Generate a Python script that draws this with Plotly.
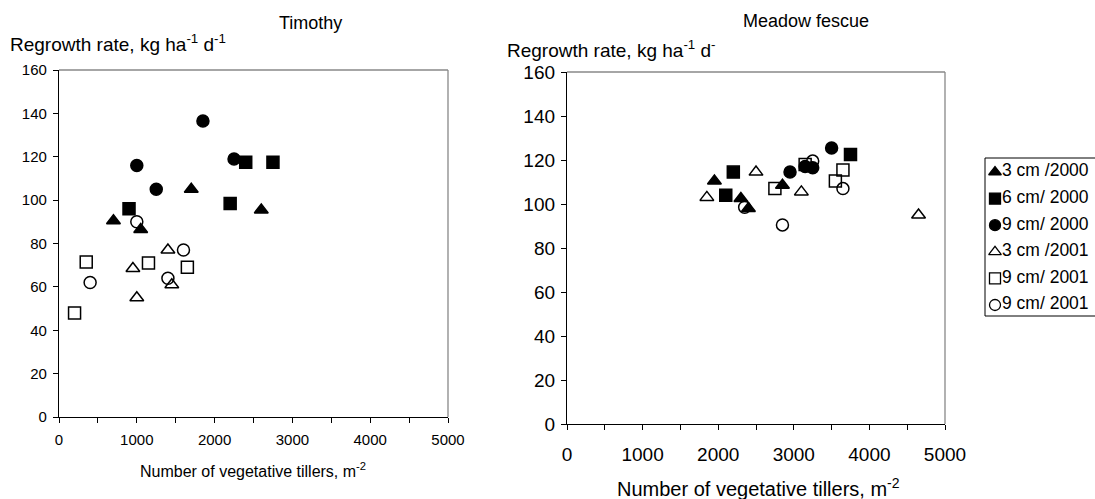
import plotly.graph_objects as go

W, H = 1095, 499

series_names = ["3 cm /2000", "6 cm/ 2000", "9 cm/ 2000", "3 cm /2001", "9 cm/ 2001", "9 cm/ 2001"]
series_symbols = ["triangle-up", "square", "circle", "triangle-up-open", "square-open", "circle-open"]

# Timothy (left panel)
tim_x = [
    [700, 1050, 1700, 2600],
    [900, 2200, 2400, 2750],
    [1000, 1250, 1850, 2250],
    [1000, 950, 1400, 1450],
    [200, 350, 1150, 1650],
    [400, 1000, 1400, 1600],
]
tim_y = [
    [90.5, 86.5, 105, 95.5],
    [96, 98.5, 117.5, 117.5],
    [116, 105, 136.5, 119],
    [55, 68.5, 77, 61],
    [48, 71.5, 71, 69],
    [62, 90, 64, 77],
]

# Meadow fescue (right panel)
mf_x = [
    [1950, 2300, 2400, 2850],
    [2100, 2200, 3750],
    [2950, 3150, 3250, 3500],
    [1850, 2500, 3100, 4650],
    [2750, 3150, 3550, 3650],
    [2350, 2850, 3250, 3650],
]
mf_y = [
    [110.5, 102.5, 98, 108.5],
    [104, 114.5, 122.5],
    [114.5, 117, 116.5, 125.5],
    [103, 114.5, 105.5, 95],
    [107, 118, 110.5, 115.5],
    [98.5, 90.5, 119.5, 107],
]

y_ticks = [0, 20, 40, 60, 80, 100, 120, 140, 160]
x_ticks = [0, 1000, 2000, 3000, 4000, 5000]

FONT = "Liberation Sans, Arial, sans-serif"
MS = 12

fig = go.Figure()

for i in range(6):
    fig.add_trace(go.Scatter(
        x=tim_x[i], y=tim_y[i], mode="markers", name=series_names[i],
        xaxis="x", yaxis="y", showlegend=False, cliponaxis=False,
        marker=dict(symbol=series_symbols[i], size=MS, color="black",
                    line=dict(color="black", width=1.5)),
    ))

for i in range(6):
    fig.add_trace(go.Scatter(
        x=mf_x[i], y=mf_y[i], mode="markers", name=series_names[i],
        xaxis="x2", yaxis="y2", showlegend=False, cliponaxis=False,
        marker=dict(symbol=series_symbols[i], size=MS, color="black",
                    line=dict(color="black", width=1.5)),
    ))

# legend drawn as a small key panel (pixel-based axis)
LEG = dict(x0=985, x1=1095, y0=158, y1=316)
row0, row_step = 14, 26.6
for i in range(6):
    ry = row0 + i * row_step
    fig.add_trace(go.Scatter(
        x=[10], y=[ry], mode="markers", xaxis="x3", yaxis="y3", showlegend=False,
        cliponaxis=False, hoverinfo="skip",
        marker=dict(symbol=series_symbols[i], size=11, color="black",
                    line=dict(color="black", width=1.3)),
    ))
    fig.add_trace(go.Scatter(
        x=[17], y=[ry], mode="text", text=[series_names[i]], textposition="middle right",
        xaxis="x3", yaxis="y3", showlegend=False, cliponaxis=False, hoverinfo="skip",
        textfont=dict(size=17.5, family=FONT, color="black"),
    ))


def px_x(p):
    return p / W


def px_y(p):
    return 1 - p / H


L = dict(x0=59, x1=448, y0=70, y1=417)
R = dict(x0=567, x1=945, y0=72, y1=424)

common_x = dict(range=[0, 5000], tickmode="array", tickvals=x_ticks,
                showline=True, linecolor="black", linewidth=1.3, ticks="outside", ticklen=5,
                tickcolor="black", showgrid=False, zeroline=False, fixedrange=True,
                automargin=False,
                minor=dict(ticks="outside", dtick=500, tick0=0, ticklen=5, tickcolor="black",
                           showgrid=False))
common_y = dict(range=[0, 160], tickmode="array", tickvals=y_ticks,
                showline=True, linecolor="black", linewidth=1.3, ticks="outside", ticklen=5,
                tickcolor="black", showgrid=False, zeroline=False, fixedrange=True,
                automargin=False)

fig.update_layout(
    width=W, height=H,
    margin=dict(l=0, r=0, t=0, b=0, autoexpand=False),
    paper_bgcolor="white", plot_bgcolor="rgba(0,0,0,0)",
    font=dict(family=FONT, color="black"),
    showlegend=False,
    xaxis=dict(domain=[px_x(L["x0"]), px_x(L["x1"])], anchor="y",
               tickfont=dict(size=15), ticklabelstandoff=4, **common_x),
    yaxis=dict(domain=[px_y(L["y1"]), px_y(L["y0"])], anchor="x",
               tickfont=dict(size=15), ticklabelstandoff=3, **common_y),
    xaxis2=dict(domain=[px_x(R["x0"]), px_x(R["x1"])], anchor="y2",
                tickfont=dict(size=19), ticklabelstandoff=8, **common_x),
    yaxis2=dict(domain=[px_y(R["y1"]), px_y(R["y0"])], anchor="x2",
                tickfont=dict(size=19), ticklabelstandoff=2, **common_y),
    xaxis3=dict(domain=[px_x(LEG["x0"]), 1], anchor="y3", range=[0, LEG["x1"] - LEG["x0"]],
                visible=False, fixedrange=True, automargin=False),
    yaxis3=dict(domain=[px_y(LEG["y1"]), px_y(LEG["y0"])], anchor="x3",
                range=[LEG["y1"] - LEG["y0"], 0], visible=False, fixedrange=True,
                automargin=False),
)

# gray top/right frame lines
for xr, yr in (("x domain", "y domain"), ("x2 domain", "y2 domain")):
    fig.add_shape(type="line", xref=xr, yref=yr, x0=0, x1=1, y0=1, y1=1,
                  line=dict(color="#888888", width=1.3), layer="below")
    fig.add_shape(type="line", xref=xr, yref=yr, x0=1, x1=1, y0=0, y1=1,
                  line=dict(color="#888888", width=1.3), layer="below")

# legend box
fig.add_shape(type="rect", xref="paper", yref="paper",
              x0=px_x(LEG["x0"]), x1=px_x(LEG["x1"] + 10), y0=px_y(LEG["y1"]), y1=px_y(LEG["y0"]),
              line=dict(color="black", width=1), fillcolor="rgba(0,0,0,0)", layer="below")

ann = [
    dict(text="Timothy", x=px_x(310), y=px_y(23), size=18),
    dict(text="Meadow fescue", x=px_x(806), y=px_y(21), size=18),
    dict(text="Number of vegetative tillers, m<sup>-2</sup>", x=px_x(253), y=px_y(470), size=16),
    dict(text="Number of vegetative tillers, m<sup>-2</sup>", x=px_x(758), y=px_y(487), size=20),
]
for a in ann:
    fig.add_annotation(text=a["text"], x=a["x"], y=a["y"], xref="paper", yref="paper",
                       showarrow=False, xanchor="center", yanchor="middle",
                       font=dict(size=a["size"], family=FONT))

fig.add_annotation(text="Regrowth rate, kg ha<sup>-1</sup> d<sup>-1</sup>", x=px_x(8), y=px_y(43),
                   xref="paper", yref="paper", showarrow=False, xanchor="left", yanchor="middle",
                   font=dict(size=19, family=FONT))
fig.add_annotation(text="Regrowth rate, kg ha<sup>-1</sup> d<sup>-</sup>", x=px_x(505), y=px_y(49),
                   xref="paper", yref="paper", showarrow=False, xanchor="left", yanchor="middle",
                   font=dict(size=19, family=FONT))

fig.write_html("out.html")
